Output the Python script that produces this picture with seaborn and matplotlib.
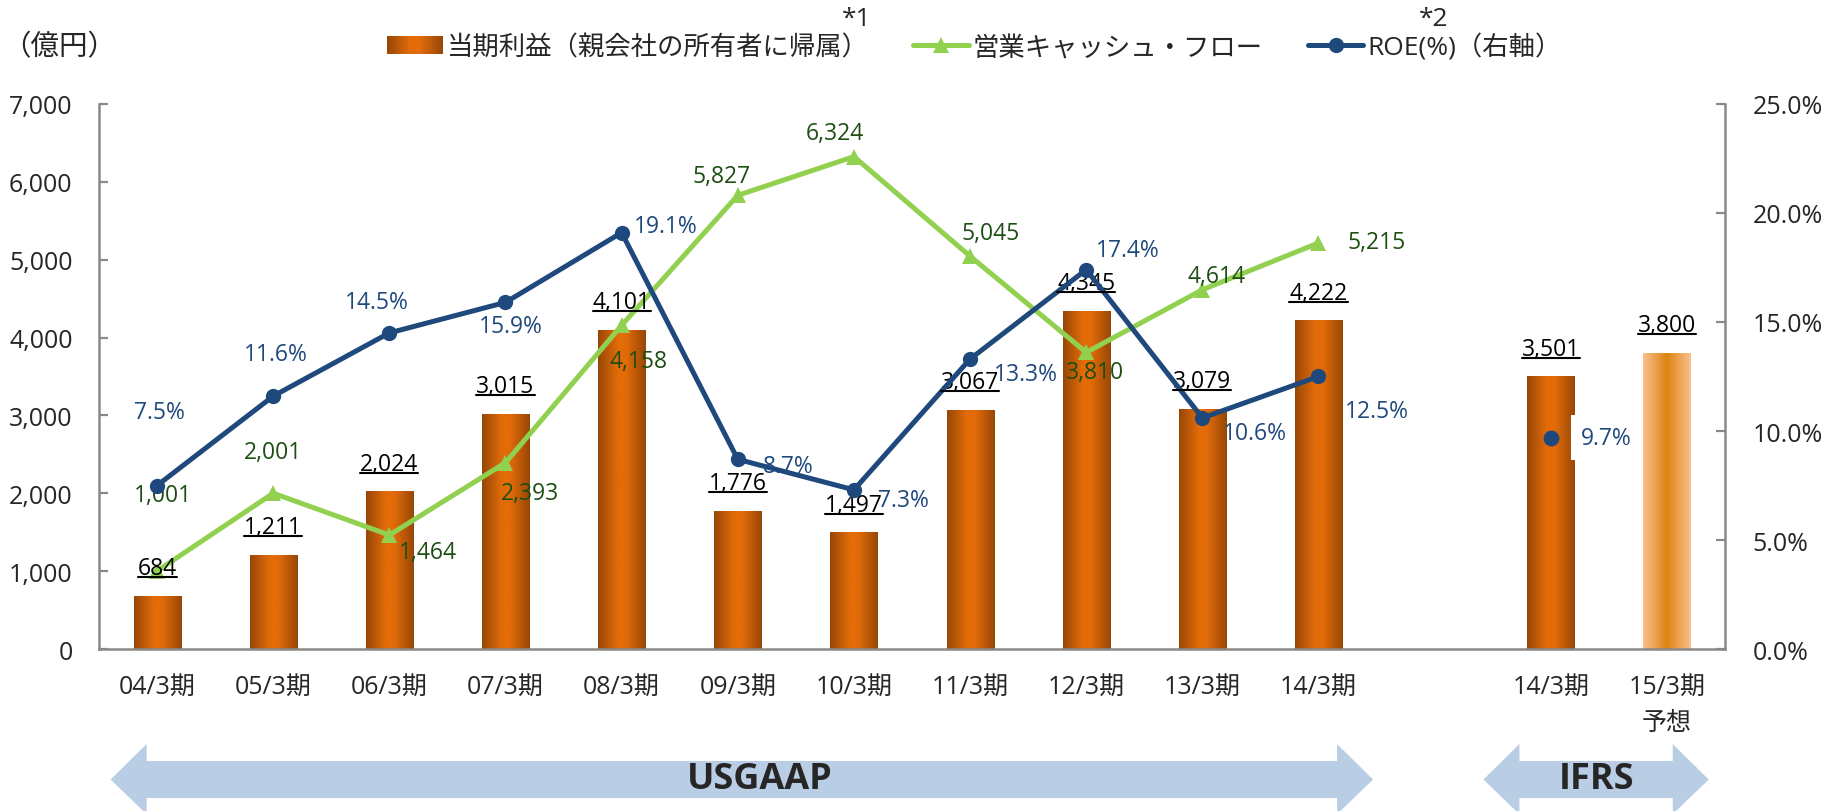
"""
plot.py - 当期利益 / 営業キャッシュ・フロー / ROE combo chart
"""

import numpy as np
import pandas as pd
import matplotlib
matplotlib.use('Agg')
import matplotlib.pyplot as plt
import seaborn as sns
from matplotlib.colors import LinearSegmentedColormap
from matplotlib.legend_handler import HandlerBase
from matplotlib.patches import Rectangle, Polygon
from matplotlib.lines import Line2D
from matplotlib.ticker import FuncFormatter
from matplotlib.transforms import blended_transform_factory

# ---------------------------------------------------------------------------
# Data
# ---------------------------------------------------------------------------
period_labels = ['04/3期', '05/3期', '06/3期', '07/3期', '08/3期', '09/3期',
                 '10/3期', '11/3期', '12/3期', '13/3期', '14/3期', '',
                 '14/3期', '15/3期\n予想']

profit_pos = [0, 1, 2, 3, 4, 5, 6, 7, 8, 9, 10, 12, 13]
profit = [684, 1211, 2024, 3015, 4101, 1776, 1497, 3067, 4345, 3079, 4222,
          3501, 3800]
forecast_pos = [13]

cf_pos = [0, 1, 2, 3, 4, 5, 6, 7, 8, 9, 10]
cash_flow = [1001, 2001, 1464, 2393, 4158, 5827, 6324, 5045, 3810, 4614, 5215]

roe_pos = [0, 1, 2, 3, 4, 5, 6, 7, 8, 9, 10]
roe = [7.5, 11.6, 14.5, 15.9, 19.1, 8.7, 7.3, 13.3, 17.4, 10.6, 12.5]
roe_ifrs_pos = [12]
roe_ifrs = [9.7]

# label placement (offset of label centre from the point, in points)
cf_offsets = [(4, 55), (0, 30), (28, -12), (18, -22), (12, -26), (-12, 14),
              (-14, 17), (15, 17), (6, -14), (10, 10), (42, 1)]
roe_offsets = [(2, 53), (2, 30), (-9, 22), (4, -17), (32, 5), (36, -5),
               (36, -7), (40, -11), (30, 14), (38, -11), (42, -25)]
roe_ifrs_offsets = [(40, 0)]

# ---------------------------------------------------------------------------
# Style
# ---------------------------------------------------------------------------
sns.set_style('white')
plt.rcParams['font.family'] = ['Open Sans', 'Noto Sans CJK JP', 'DejaVu Sans']

GRAY = '#898989'
GREEN = '#92D050'
GREEN_TXT = '#1D4E12'
NAVY = '#1F497D'
ARROW = '#B9CDE5'
BAR_CMAP = LinearSegmentedColormap.from_list(
    'bar', [(0, '#974706'), (0.42, '#E36C09'), (0.58, '#E36C09'), (1, '#974706')])
FC_CMAP = LinearSegmentedColormap.from_list(
    'fc', [(0, '#FAC090'), (0.5, '#DD8410'), (1, '#FAC090')])


class GradientHandler(HandlerBase):
    """Legend handle drawn as a horizontal gradient swatch."""

    def __init__(self, cmap, n=30):
        super().__init__()
        self.cmap = cmap
        self.n = n

    def create_artists(self, legend, orig_handle, xdescent, ydescent, width,
                       height, fontsize, trans):
        arts = []
        step = width / self.n
        for i in range(self.n):
            r = Rectangle((-xdescent + i * step, -ydescent), step * 1.05, height,
                          facecolor=self.cmap((i + 0.5) / self.n),
                          edgecolor='none', transform=trans)
            arts.append(r)
        return arts


def double_arrow(fig, ax, x0, x1, head=0.31):
    """Light blue double-headed arrow spanning data x0..x1 below the axis."""
    trans = blended_transform_factory(ax.transData, fig.transFigure)
    yc, ys_t, ys_b, yh_t, yh_b = 0.0388, 0.0616, 0.016, 0.0825, -0.004
    verts = [(x0, yc), (x0 + head, yh_t), (x0 + head, ys_t), (x1 - head, ys_t),
             (x1 - head, yh_t), (x1, yc), (x1 - head, yh_b), (x1 - head, ys_b),
             (x0 + head, ys_b), (x0 + head, yh_b)]
    poly = Polygon(verts, closed=True, facecolor=ARROW, edgecolor='none',
                   transform=trans, clip_on=False)
    fig.add_artist(poly)


def main():
    fig = plt.figure(figsize=(18.35, 8.12), dpi=100)
    ax = fig.add_axes([0.05395, 0.1995, 0.8861, 0.6712])

    # --- bars -------------------------------------------------------------
    df = pd.DataFrame({'pos': profit_pos, 'profit': profit})
    sns.barplot(data=df, x='pos', y='profit', order=list(range(14)),
                width=0.405, color='#E36C09', ax=ax, legend=False)
    grad = np.linspace(0, 1, 256).reshape(1, -1)
    for patch in list(ax.patches):
        x0, w, h = patch.get_x(), patch.get_width(), patch.get_height()
        cmap = FC_CMAP if round(x0 + w / 2) in forecast_pos else BAR_CMAP
        im = ax.imshow(grad, cmap=cmap, extent=(x0, x0 + w, 0, h),
                       aspect='auto', interpolation='bicubic',
                       zorder=patch.get_zorder())
        im.set_clip_path(patch)
        patch.set_facecolor('none')
        patch.set_linewidth(0)

    bar_texts = []
    for x, v in zip(profit_pos, profit):
        t = ax.annotate(f'{v:,}', (x, v), xytext=(0, 20),
                        textcoords='offset points', ha='center', va='center',
                        fontsize=16.5, color='black', zorder=4)
        bar_texts.append(t)

    # --- operating cash flow ---------------------------------------------
    sns.lineplot(x=cf_pos, y=cash_flow, ax=ax, color=GREEN, lw=3.6,
                 marker='^', markersize=12, markeredgewidth=0, legend=False,
                 zorder=3)
    for x, v, off in zip(cf_pos, cash_flow, cf_offsets):
        ax.annotate(f'{v:,}', (x, v), xytext=off, textcoords='offset points',
                    ha='center', va='center', fontsize=16.5, color=GREEN_TXT,
                    zorder=5)

    ax.set_xlim(-0.5, 13.5)
    ax.set_ylim(0, 7000)
    ax.set_yticks(range(0, 7001, 1000))
    ax.yaxis.set_major_formatter(FuncFormatter(lambda v, p: f'{v:,.0f}'))
    ax.set_xticks(range(14))
    ax.set_xticklabels(period_labels, linespacing=1.6)
    ax.set_xticks(np.arange(-0.5, 14, 1), minor=True)
    ax.set_xlabel('')
    ax.set_ylabel('')
    ax.tick_params(axis='x', which='major', length=0, pad=18, labelsize=18)
    ax.tick_params(axis='x', which='minor', length=7, width=1.6, color=GRAY,
                   direction='out')
    ax.tick_params(axis='y', direction='in', length=6.5, width=1.6,
                   color=GRAY, pad=19, labelsize=18)
    for side in ['top', 'right']:
        ax.spines[side].set_visible(False)
    for side in ['left', 'bottom']:
        ax.spines[side].set_color(GRAY)
        ax.spines[side].set_linewidth(1.8)

    # --- ROE (right axis) ---------------------------------------------------
    ax2 = ax.twinx()
    sns.lineplot(x=roe_pos, y=roe, ax=ax2, color=NAVY, lw=3.6, marker='o',
                 markersize=11, markeredgewidth=0, legend=False)
    sns.scatterplot(x=roe_ifrs_pos, y=roe_ifrs, ax=ax2, color=NAVY, s=130,
                    linewidth=0, legend=False)
    for x, v, off in zip(roe_pos, roe, roe_offsets):
        ax2.annotate(f'{v:.1f}%', (x, v), xytext=off, textcoords='offset points',
                     ha='center', va='center', fontsize=16.5, color=NAVY)
    for x, v, off in zip(roe_ifrs_pos, roe_ifrs, roe_ifrs_offsets):
        ax2.annotate(f'{v:.1f}%', (x, v), xytext=off, textcoords='offset points',
                     ha='center', va='center', fontsize=16.5, color=NAVY,
                     bbox=dict(boxstyle='square,pad=0.45', facecolor='white',
                               edgecolor='none'))
    ax2.set_xlim(-0.5, 13.5)
    ax2.set_ylim(0, 25)
    ax2.set_yticks(range(0, 26, 5))
    ax2.yaxis.set_major_formatter(FuncFormatter(lambda v, p: f'{v:.1f}%'))
    ax2.set_ylabel('')
    ax2.tick_params(axis='y', direction='in', length=6.5, width=1.6,
                    color=GRAY, pad=20, labelsize=18)
    for side in ['top', 'left', 'bottom']:
        ax2.spines[side].set_visible(False)
    ax2.spines['right'].set_color(GRAY)
    ax2.spines['right'].set_linewidth(1.8)

    # --- legend & header texts ---------------------------------------------
    bar_proxy = Rectangle((0, 0), 1, 1)
    handles = [bar_proxy,
               Line2D([], [], color=GREEN, lw=3.6, marker='^', markersize=12,
                      markeredgewidth=0),
               Line2D([], [], color=NAVY, lw=3.6, marker='o', markersize=11,
                      markeredgewidth=0)]
    labels = ['当期利益（親会社の所有者に帰属）', '営業キャッシュ・フロー',
              'ROE(%)（右軸）']
    fig.legend(handles, labels, loc='center', bbox_to_anchor=(0.531, 0.941),
               ncol=3, frameon=False, fontsize=19, handlelength=2.1,
               handleheight=0.65, handletextpad=0.15, columnspacing=1.7,
               handler_map={bar_proxy: GradientHandler(BAR_CMAP)})
    fig.text(857 / 1835, 1 - 20 / 812, '*1', fontsize=19, ha='center',
             va='center')
    fig.text(1434 / 1835, 1 - 20 / 812, '*2', fontsize=19, ha='center',
             va='center')
    fig.text(2 / 1835, 1 - 48 / 812, '（億円）', fontsize=20.5, ha='left',
             va='center')

    # --- accounting standard arrows ----------------------------------------
    double_arrow(fig, ax, -0.4, 10.47)
    double_arrow(fig, ax, 11.42, 13.36)
    trans = blended_transform_factory(ax.transData, fig.transFigure)
    fig.text(5.19, 0.039, 'USGAAP', transform=trans, fontsize=26,
             fontweight='bold', ha='center', va='center')
    fig.text(12.39, 0.039, 'IFRS', transform=trans, fontsize=26,
             fontweight='bold', ha='center', va='center')

    # --- underline the profit labels ---------------------------------------
    fig.canvas.draw()
    renderer = fig.canvas.get_renderer()
    W, H = fig.bbox.width, fig.bbox.height
    for t in bar_texts:
        bb = t.get_window_extent(renderer)
        y = (bb.y0 + 3) / H
        fig.add_artist(Line2D([bb.x0 / W, bb.x1 / W], [y, y], color='black',
                              lw=1.5, transform=fig.transFigure))

    fig.savefig('out.png', dpi=100)
    plt.close(fig)


if __name__ == '__main__':
    main()
